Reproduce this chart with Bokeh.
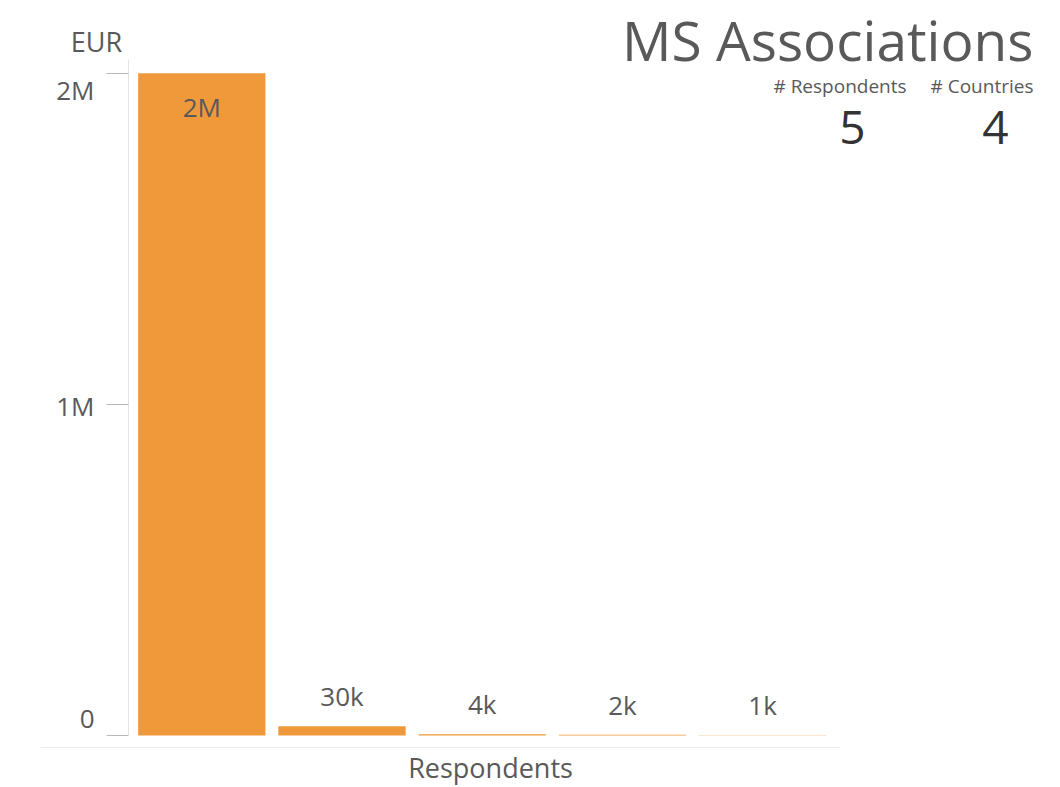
from bokeh.plotting import figure
from bokeh.models import Range1d, FixedTicker, ColumnDataSource, LabelSet, Label
from bokeh.core.properties import value
from bokeh.embed import file_html
from bokeh.resources import INLINE

# ---- data ----
respondents = [1, 2, 3, 4, 5]
amounts_eur = [2000000, 28000, 4000, 2000, 1000]
bar_labels = ["2M", "30k", "4k", "2k", "1k"]
y_ticks = [0, 1000000, 2000000]
y_tick_labels = ["0", "1M", "2M"]
x_title = "Respondents"
y_title = "EUR"
chart_title = "MS Associations"
stat_names = ["# Respondents", "# Countries"]
stat_values = [5, 4]

FONT = "Open Sans"
ORANGE = "#F0993B"
GREY = "#595959"
DARK = "#333333"

# ---- layout (pixels) ----
W, H = 1052, 787
FL, FT, FR, FB = 40, 0, 1044, 785          # frame box
BAR1_PX, UNIT_PX = 201.3, 140.2            # x scale
ZERO_PX, PX_PER_M = 735, 331.15            # y scale

x_start = 1 - (BAR1_PX - FL) / UNIT_PX
x_end = x_start + (FR - FL) / UNIT_PX
y_start = -(FB - ZERO_PX) / PX_PER_M * 1e6
y_end = y_start + (FB - FT) / PX_PER_M * 1e6

def xd(px):
    return x_start + (px - FL) / UNIT_PX

def yd(py):
    return y_start + (FB - py) / PX_PER_M * 1e6

p = figure(width=W, height=H, output_backend="svg", toolbar_location=None,
           x_range=Range1d(x_start, x_end), y_range=Range1d(y_start, y_end),
           min_border_left=FL, min_border_right=W - FR, min_border_top=FT,
           min_border_bottom=H - FB)
p.outline_line_color = None
p.background_fill_color = "white"
p.border_fill_color = "white"
p.xgrid.visible = False
p.ygrid.visible = False

# bars + value labels (inside the bar when it reaches the top)
offsets = [-34 if v > 0.9 * max(amounts_eur) else 30 for v in amounts_eur]
src = ColumnDataSource(dict(x=respondents, v=amounts_eur, lab=bar_labels, off=offsets))
p.vbar(x="x", top="v", bottom=0, width=0.908, source=src,
       fill_color=ORANGE, line_color=None)
p.add_layout(LabelSet(x="x", y="v", text="lab", y_offset="off", source=src,
                      text_align="center", text_baseline="middle",
                      text_font=value(FONT), text_font_size="26px", text_color=GREY))

# x axis: faint base line below the bars
p.xaxis.fixed_location = yd(747)
p.xaxis.ticker = FixedTicker(ticks=[], minor_ticks=[])
p.xaxis.bounds = (xd(25), xd(840))
p.xaxis.axis_line_color = "#ececec"
p.xaxis.major_tick_out = 0
p.xaxis.major_tick_in = 0
p.xaxis.minor_tick_out = 0
p.xaxis.major_label_standoff = 0

# y axis, drawn at the left edge of the bars
p.yaxis.fixed_location = xd(128)
p.yaxis.bounds = (0, yd(59))
p.yaxis.ticker = FixedTicker(ticks=y_ticks, minor_ticks=[])
p.yaxis.major_label_overrides = {t: "" for t in y_ticks}
p.yaxis.axis_line_color = "#e3e3e3"
p.yaxis.major_tick_in = 0
p.yaxis.major_tick_out = 22
p.yaxis.major_tick_line_color = "#b8b8b8"
p.yaxis.minor_tick_out = 0
p.yaxis.major_label_standoff = 0

for t, lab in zip(y_ticks, y_tick_labels):
    off = 17 if t == min(y_ticks) else (-17 if t == max(y_ticks) else -2)
    p.add_layout(Label(x=xd(94), y=t, text=lab, y_offset=off,
                       text_align="right", text_baseline="middle",
                       text_font=FONT, text_font_size="26px", text_color=GREY))

def text(s, cx, cy, size, color=GREY, align="center"):
    p.add_layout(Label(x=xd(cx), y=yd(cy), text=s, text_align=align,
                       text_baseline="middle", text_font=FONT,
                       text_font_size=size, text_color=color))

text(y_title, 96, 41, "27px")
text(x_title, 490, 767, "27px")
text(chart_title, 1033, 38.5, "55px", align="right")
for name, val, cx_name, cx_val in zip(stat_names, stat_values, [839.5, 981.5], [852, 995]):
    text(name, cx_name, 85, "19px")
    text(str(val), cx_val, 126.5, "46px", color=DARK)

open("out.html", "w").write(file_html(p, INLINE))
